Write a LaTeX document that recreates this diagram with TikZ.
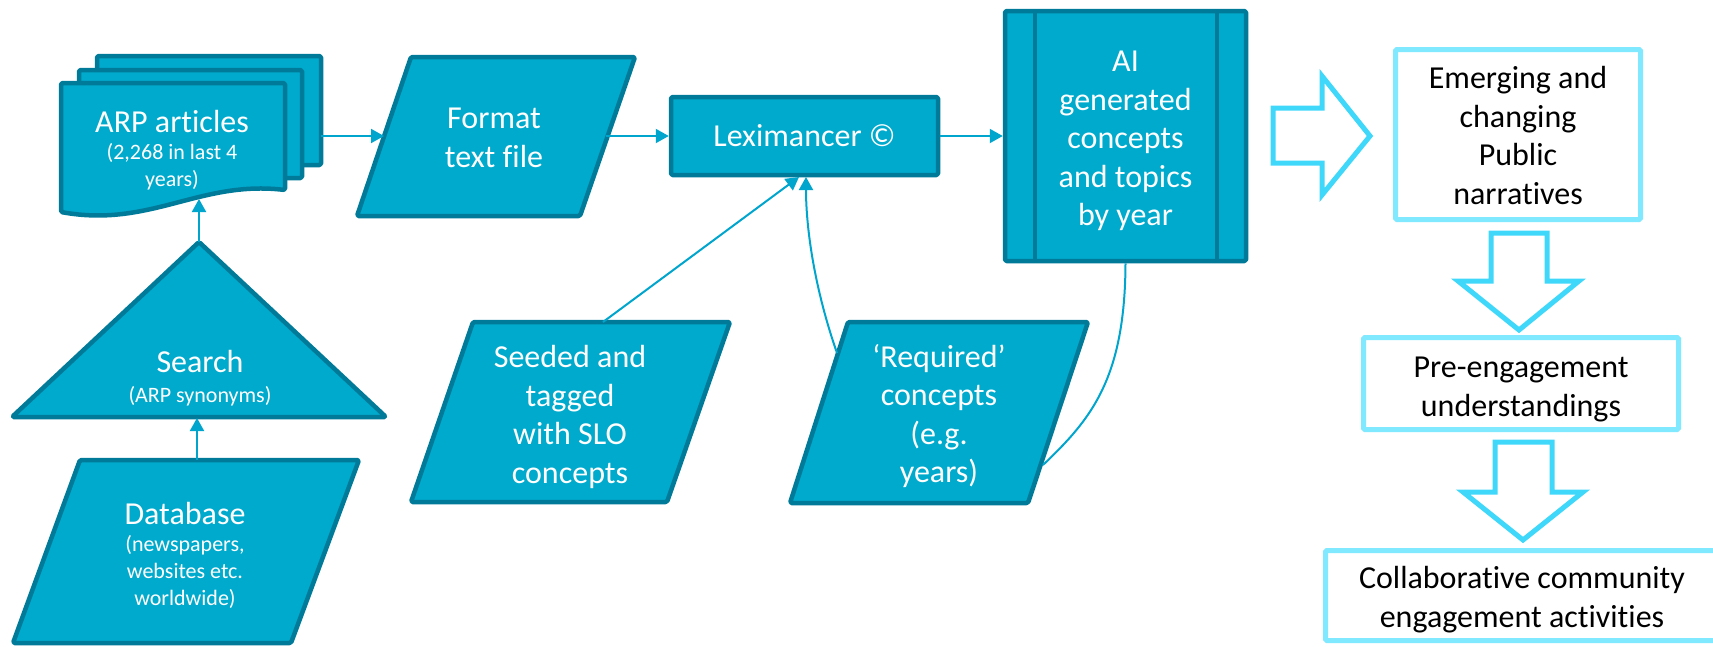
\documentclass[tikz,border=0pt]{standalone}
\usepackage{fontspec}
\setmainfont{Carlito}[Ligatures=NoCommon]
\usetikzlibrary{arrows.meta}
\definecolor{shapefill}{RGB}{0,170,205}
\definecolor{shapeline}{RGB}{0,122,153}
\definecolor{connline}{RGB}{0,165,205}
\definecolor{blockarrow}{RGB}{64,216,250}
\definecolor{boxline}{RGB}{128,232,255}
\newcommand\sublbl{\fontsize{22}{27}\selectfont}
\newcommand\biglbl{\fontsize{32}{38.5}\selectfont}
\tikzset{
  tealshape/.style={fill=shapefill, draw=shapeline, line width=4.5pt, line join=round, rounded corners=1.5pt},
  wtxt/.style={text=white, align=center, font=\biglbl, inner sep=0pt},
  wsmall/.style={text=white, align=center, font=\sublbl, inner sep=0pt},
  btxt/.style={text=black, align=center, font=\biglbl, inner sep=0pt},
  conn/.style={draw=connline, line width=2pt, -{Triangle[length=13pt,width=14pt]}},
  plainconn/.style={draw=connline, line width=2pt},
  outbox/.style={draw=boxline, line width=5pt, rounded corners=1.5pt, fill=white},
  blockarr/.style={draw=blockarrow, line width=5pt, fill=white, line join=miter},
}
\begin{document}
\begin{tikzpicture}[x=1pt,y=-1pt]
\useasboundingbox (0,0) rectangle (1713,646);
% document stack
\draw[tealshape] (97,56) rectangle (321,165);
\draw[tealshape] (79,70) rectangle (302,178);
\draw[tealshape] (61,83) -- (285,83) -- (285,190) .. controls (200,180) and (150,228) .. (61,212) -- cycle;
\node[wsmall] (doc) at (172,150) {\biglbl ARP articles\\(2,268 in last 4\\years)};
\coordinate (docR) at (321,136);
\coordinate (docB) at (199,199);
% search
\draw[tealshape] (199,242) -- (386,417) -- (12,417) -- cycle;
\node[wsmall] (search) at (200,378) {\biglbl Search\\[3pt](ARP synonyms)};
\coordinate (searchT) at (199,242);
\coordinate (searchB) at (197,418);
% database
\draw[tealshape] (80,460) -- (359,460) -- (291,643) -- (13,643) -- cycle;
\node[wsmall] (db) at (185,555) {\biglbl Database\\(newspapers,\\websites etc.\\worldwide)};
\coordinate (dbT) at (197,460);
% format
\draw[tealshape] (411,57) -- (635,57) -- (580,216) -- (357,216) -- cycle;
\node[wtxt] (format) at (494,138) {Format\\text file};
\coordinate (formatL) at (384,136);
\coordinate (formatR) at (606,136);
% leximancer
\node[tealshape, wtxt, minimum width=267pt, minimum height=78pt] (lexi) at (804.5,136) {Leximancer ©};
% AI box
\node[tealshape, minimum width=241pt, minimum height=250pt] (ai) at (1125.5,136) {};
\draw[shapeline, line width=4.5pt] (1035,11) -- (1035,261) (1217,11) -- (1217,261);
\node[wtxt] (aitxt) at (1125.5,141) {AI\\generated\\concepts\\and topics\\by year};
% seeded
\draw[tealshape] (473,322) -- (730,322) -- (667,502) -- (411,502) -- cycle;
\node[wtxt] (seeded) at (570,417) {Seeded and\\tagged\\with SLO\\concepts};
\coordinate (seededT) at (603,322);
% required
\draw[tealshape] (848,322) -- (1088,322) -- (1028,503) -- (790,503) -- cycle;
\node[wtxt] (required) at (939,416) {‘Required’\\concepts\\(e.g.\\years)};
\coordinate (reqL) at (837,353);
\coordinate (reqR) at (1043,465);
\coordinate (lexiB1) at (799,177);
\coordinate (lexiB2) at (806,177);
% connectors
\draw[conn] (docR) -- (formatL);
\draw[conn] (searchT) -- (docB);
\draw[conn] (dbT) -- (searchB);
\draw[conn] (formatR) -- (lexi.west);
\draw[conn] (lexi.east) -- (ai.west);
\draw[conn] (seededT) -- (lexiB1);
\draw[conn] (reqL) .. controls (815,290) and (806,230) .. (lexiB2);
\draw[plainconn] (ai.south) .. controls (1125,380) and (1090,420) .. (reqR);
% right side
\node[outbox, minimum width=245pt, minimum height=170pt] (emerging) at (1518,134.5) {};
\node[btxt] (emergingtxt) at (1518,135.5) {Emerging and\\changing\\Public\\narratives};
\node[outbox, minimum width=315pt, minimum height=92pt] (pre) at (1521,383.5) {};
\node[btxt] (pretxt) at (1521,389.5) {Pre-engagement\\understandings};
\node[outbox, minimum width=393pt, minimum height=90pt] (collab) at (1522,595.5) {};
\node[btxt] (collabtxt) at (1522,599.5) {Collaborative community\\engagement activities};
\draw[blockarr] (1273,108) -- (1322,108) -- (1322,76) -- (1370,136) -- (1322,195) -- (1322,163) -- (1273,163) -- cycle;
\draw[blockarr] (1491,233) -- (1547,233) -- (1547,281) -- (1579,281) -- (1519,330) -- (1458,281) -- (1491,281) -- cycle;
\draw[blockarr] (1495,442) -- (1552,442) -- (1552,492) -- (1583,492) -- (1523,540) -- (1463,492) -- (1495,492) -- cycle;
\end{tikzpicture}
\end{document}
